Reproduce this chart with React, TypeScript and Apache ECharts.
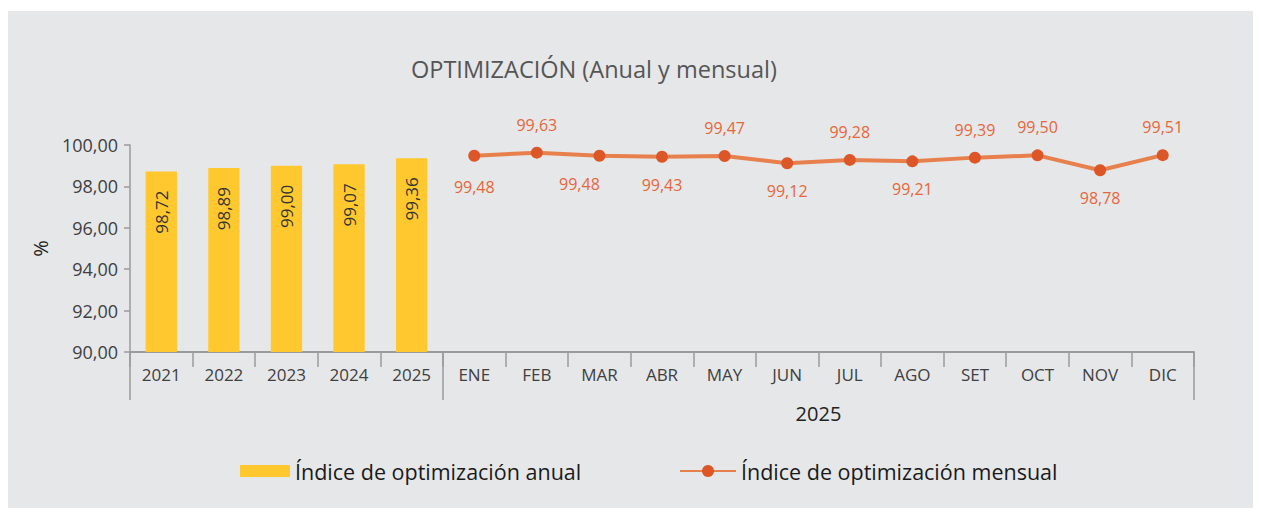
import React, { useEffect, useRef } from 'react';
import * as echarts from 'echarts';

const years = ['2021', '2022', '2023', '2024', '2025'];
const months = ['ENE', 'FEB', 'MAR', 'ABR', 'MAY', 'JUN', 'JUL', 'AGO', 'SET', 'OCT', 'NOV', 'DIC'];
const annualValues = [98.72, 98.89, 99.0, 99.07, 99.36];
const monthlyValues = [99.48, 99.63, 99.48, 99.43, 99.47, 99.12, 99.28, 99.21, 99.39, 99.5, 98.78, 99.51];
const monthlyLabelSide = ['bottom', 'top', 'bottom', 'bottom', 'top', 'bottom', 'top', 'bottom', 'top', 'top', 'bottom', 'top'];
const yMin = 90;
const yMax = 100;
const yStep = 2;
const titleText = 'OPTIMIZACIÓN (Anual y mensual)';
const annualName = 'Índice de optimización anual';
const monthlyName = 'Índice de optimización mensual';
const monthGroupLabel = '2025';

const fmt = (v: number) => v.toFixed(2).replace('.', ',');
const FONT = 'Open Sans';
const AXIS_GREY = '#9b9b9b';

export default function App() {
  const ref = useRef<HTMLDivElement>(null);

  useEffect(() => {
    document.body.style.overflow = 'hidden';
    if (!ref.current) return;
    const chart = echarts.init(ref.current, null, { renderer: 'svg' });
    const categories = [...years, ...months];
    const barData = [...annualValues, ...months.map(() => '-')];
    const lineData = [
      ...years.map(() => '-'),
      ...monthlyValues.map((v, i) => ({
        value: v,
        label: {
          position: monthlyLabelSide[i],
          offset: i === 2 ? [-20, 0] : i === 0 ? [0, 3] : [0, 0],
        },
      })),
    ];

    chart.setOption({
      animation: false,
      textStyle: { fontFamily: FONT },
      title: {
        text: titleText,
        left: 398,
        top: 41,
        textStyle: { fontFamily: FONT, fontSize: 23.5, fontWeight: 'normal', color: '#555555' },
      },
      legend: [
        {
          data: [annualName],
          left: 227,
          top: 444,
          icon: 'rect',
          itemWidth: 50,
          itemHeight: 12,
          itemGap: 6,
          textStyle: { fontFamily: FONT, fontSize: 21.5, color: '#1a1a1a' },
        },
        {
          data: [monthlyName],
          left: 666,
          top: 444,
          itemWidth: 56,
          itemHeight: 15,
          textStyle: { fontFamily: FONT, fontSize: 21.5, color: '#1a1a1a' },
        },
      ],
      grid: [
        { left: 122, right: 64, top: 134, bottom: 171 },
        { left: 122, right: 64, top: 134, bottom: 171 },
      ],
      xAxis: [
        {
          type: 'category',
          gridIndex: 0,
          data: categories,
          boundaryGap: true,
          axisLine: { lineStyle: { color: AXIS_GREY, width: 2 } },
          axisTick: { show: true, length: 15, interval: 0, lineStyle: { color: AXIS_GREY, width: 1.5 } },
          axisLabel: { interval: 0, fontSize: 17, color: '#404040', margin: 14 },
        },
        {
          type: 'category',
          gridIndex: 1,
          data: categories,
          min: 0,
          max: categories.length - 1,
          boundaryGap: true,
          axisLine: { show: false },
          axisLabel: { show: false },
          axisTick: {
            show: true,
            length: 48,
            interval: (i: number) => i === 0 || i === years.length,
            lineStyle: { color: AXIS_GREY, width: 1.5 },
          },
        },
      ],
      yAxis: [
        {
          type: 'value',
          gridIndex: 0,
          min: yMin,
          max: yMax,
          interval: yStep,
          name: '%',
          nameLocation: 'middle',
          nameGap: 73,
          nameRotate: 90,
          nameTextStyle: { fontFamily: FONT, fontSize: 20, color: '#222222' },
          axisLine: { show: true, lineStyle: { color: AXIS_GREY, width: 1.5 } },
          axisTick: { show: true, length: 6, lineStyle: { color: AXIS_GREY, width: 1.5 } },
          axisLabel: { fontSize: 18, color: '#404040', margin: 12, formatter: (v: number) => fmt(v) },
          splitLine: { show: false },
        },
        {
          type: 'value',
          gridIndex: 1,
          min: yMin,
          max: yMax,
          show: false,
        },
      ],
      series: [
        {
          type: 'bar',
          name: annualName,
          xAxisIndex: 0,
          yAxisIndex: 0,
          data: barData,
          barWidth: '50%',
          itemStyle: { color: '#fec82e' },
          label: {
            show: true,
            rotate: 90,
            position: ['50%', 19],
            align: 'right',
            verticalAlign: 'middle',
            fontSize: 17,
            color: '#333333',
            formatter: (p: any) => fmt(Number(p.value)),
          },
        },
        {
          type: 'line',
          name: monthlyName,
          xAxisIndex: 0,
          yAxisIndex: 0,
          data: lineData,
          symbol: 'circle',
          symbolSize: 12,
          lineStyle: { color: '#e8804e', width: 4 },
          itemStyle: { color: '#dc5627' },
          label: {
            show: true,
            distance: 14,
            fontSize: 16,
            color: '#e4683b',
            formatter: (p: any) => fmt(Number(p.value)),
          },
        },
      ],
    });

    const x0 = chart.convertToPixel({ xAxisIndex: 0 }, months[0]) as number;
    const x1 = chart.convertToPixel({ xAxisIndex: 0 }, months[months.length - 1]) as number;
    const yBase = chart.convertToPixel({ yAxisIndex: 0 }, yMin) as number;
    chart.setOption({
      graphic: [
        {
          type: 'text',
          x: (x0 + x1) / 2,
          y: yBase + 61,
          style: {
            text: monthGroupLabel,
            align: 'center',
            verticalAlign: 'middle',
            fontFamily: FONT,
            fontSize: 20,
            fill: '#222222',
          },
        },
      ],
    });

    return () => chart.dispose();
  }, []);

  return (
    <div style={{ position: 'relative', top: 3, width: 1250, height: 500 }}>
      <div
        ref={ref}
        style={{ position: 'absolute', left: 0, top: 0, width: 1250, height: 512, background: '#e6e7e8' }}
      />
    </div>
  );
}
